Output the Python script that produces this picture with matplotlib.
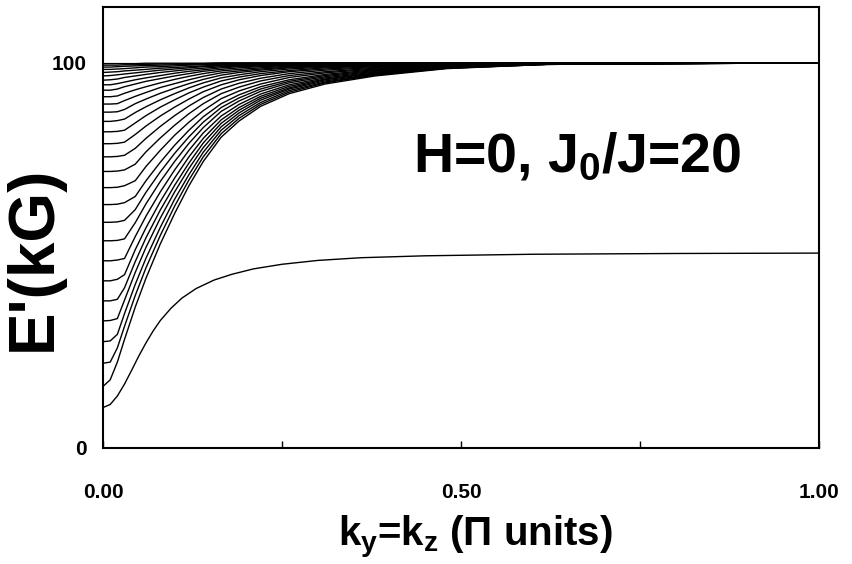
import matplotlib
matplotlib.use("Agg")
import matplotlib.pyplot as plt

plt.rcParams['font.family'] = ['Liberation Sans', 'DejaVu Sans']
plt.rcParams['mathtext.fontset'] = 'custom'
plt.rcParams['mathtext.rm'] = 'Liberation Sans:bold'
plt.rcParams['mathtext.it'] = 'Liberation Sans:bold'
plt.rcParams['mathtext.bf'] = 'Liberation Sans:bold'

# wave vector grid (pi units) for the bulk-like branches
k = [0, 0.01, 0.02, 0.03, 0.045, 0.06, 0.08, 0.10, 0.12, 0.14,
     0.165, 0.19, 0.22, 0.26, 0.31, 0.38, 0.48, 0.62, 1.0]

# E'(k) of each branch, lowest first (kG)
modes = [
    [16.0, 17.7, 22.3, 28.2, 36.6, 44.1, 53.0, 60.9, 68.1, 74.4, 80.7, 84.9, 88.7, 92.0, 94.5, 96.6, 98.5, 99.6, 100],
    [22.0, 22.3, 26.0, 31.6, 39.6, 46.8, 55.2, 62.8, 69.6, 75.6, 81.6, 85.6, 89.2, 92.4, 94.8, 96.8, 98.6, 99.6, 100],
    [27.6, 27.8, 29.5, 34.9, 42.5, 49.3, 57.3, 64.6, 71.0, 76.8, 82.5, 86.3, 89.7, 92.8, 95.0, 97.0, 98.6, 99.6, 100],
    [33.0, 33.1, 33.6, 38.4, 45.6, 52.1, 59.7, 66.5, 72.6, 78.0, 83.4, 87.0, 90.3, 93.2, 95.3, 97.1, 98.7, 99.6, 100],
    [38.2, 38.2, 38.6, 41.6, 48.4, 54.6, 61.8, 68.2, 74.0, 79.2, 84.3, 87.7, 90.8, 93.5, 95.6, 97.3, 98.8, 99.7, 100],
    [43.4, 43.4, 43.8, 45.0, 51.5, 57.2, 64.0, 70.1, 75.6, 80.4, 85.2, 88.4, 91.3, 93.9, 95.8, 97.4, 98.8, 99.7, 100],
    [48.6, 48.6, 48.8, 49.2, 54.9, 60.2, 66.5, 72.2, 77.3, 81.8, 86.2, 89.2, 91.9, 94.3, 96.1, 97.6, 98.9, 99.7, 100],
    [53.8, 53.8, 53.9, 54.3, 58.5, 63.4, 69.2, 74.4, 79.1, 83.2, 87.4, 90.1, 92.6, 94.8, 96.4, 97.8, 99.0, 99.7, 100],
    [58.6, 58.6, 58.7, 59.1, 61.9, 66.4, 71.7, 76.5, 80.8, 84.6, 88.4, 90.9, 93.2, 95.2, 96.7, 98.0, 99.1, 99.7, 100],
    [63.2, 63.2, 63.3, 63.7, 65.3, 69.4, 74.2, 78.6, 82.5, 86.0, 89.4, 91.7, 93.8, 95.6, 97.0, 98.2, 99.2, 99.8, 100],
    [67.6, 67.6, 67.7, 68.1, 69.4, 73.1, 77.3, 81.2, 84.6, 87.6, 90.7, 92.7, 94.5, 96.2, 97.4, 98.4, 99.3, 99.8, 100],
    [71.8, 71.8, 71.9, 72.2, 73.7, 76.9, 80.5, 83.8, 86.8, 89.4, 92.0, 93.7, 95.3, 96.7, 97.7, 98.6, 99.4, 99.8, 100],
    [75.6, 75.6, 75.7, 76.0, 77.8, 80.4, 83.5, 86.3, 88.8, 91.0, 93.2, 94.7, 96.0, 97.2, 98.1, 98.8, 99.5, 99.9, 100],
    [79.0, 79.0, 79.1, 79.4, 81.4, 83.6, 86.2, 88.5, 90.6, 92.5, 94.3, 95.6, 96.7, 97.7, 98.4, 99.0, 99.6, 99.9, 100],
    [82.1, 82.1, 82.2, 82.5, 84.4, 86.3, 88.5, 90.4, 92.2, 93.7, 95.3, 96.3, 97.2, 98.0, 98.7, 99.2, 99.6, 99.9, 100],
    [84.8, 84.8, 85.0, 85.4, 87.1, 88.6, 90.4, 92.0, 93.5, 94.8, 96.1, 96.9, 97.7, 98.4, 98.9, 99.3, 99.7, 99.9, 100],
    [87.2, 87.2, 87.3, 87.9, 89.4, 90.6, 92.1, 93.4, 94.6, 95.7, 96.8, 97.5, 98.1, 98.7, 99.1, 99.4, 99.7, 99.9, 100],
    [89.3, 89.3, 89.4, 90.2, 91.3, 92.3, 93.6, 94.6, 95.6, 96.5, 97.4, 97.9, 98.4, 98.9, 99.2, 99.5, 99.8, 99.9, 100],
    [91.2, 91.2, 91.4, 92.1, 93.0, 93.8, 94.8, 95.7, 96.5, 97.2, 97.9, 98.3, 98.7, 99.1, 99.4, 99.6, 99.8, 100, 100],
    [92.9, 92.9, 93.2, 93.8, 94.5, 95.2, 95.9, 96.6, 97.2, 97.8, 98.3, 98.7, 99.0, 99.3, 99.5, 99.7, 99.9, 100, 100],
    [94.3, 94.3, 94.6, 95.0, 95.6, 96.1, 96.7, 97.3, 97.8, 98.2, 98.7, 99.0, 99.2, 99.4, 99.6, 99.8, 99.9, 100, 100],
    [95.5, 95.6, 95.8, 96.2, 96.6, 97.0, 97.5, 97.9, 98.3, 98.6, 99.0, 99.2, 99.4, 99.6, 99.7, 99.8, 99.9, 100, 100],
    [96.6, 96.7, 96.9, 97.1, 97.4, 97.7, 98.1, 98.4, 98.7, 99.0, 99.2, 99.4, 99.5, 99.7, 99.8, 99.9, 99.9, 100, 100],
    [97.5, 97.6, 97.7, 97.9, 98.1, 98.3, 98.6, 98.8, 99.0, 99.2, 99.4, 99.5, 99.7, 99.8, 99.8, 99.9, 100, 100, 100],
    [98.3, 98.3, 98.4, 98.5, 98.7, 98.9, 99.0, 99.2, 99.4, 99.5, 99.6, 99.7, 99.8, 99.8, 99.9, 99.9, 100, 100, 100],
    [98.9, 98.9, 99.0, 99.1, 99.2, 99.3, 99.4, 99.5, 99.6, 99.7, 99.7, 99.8, 99.9, 99.9, 99.9, 100, 100, 100, 100],
    [99.4, 99.4, 99.4, 99.5, 99.5, 99.6, 99.7, 99.7, 99.8, 99.8, 99.9, 99.9, 99.9, 99.9, 100, 100, 100, 100, 100],
    [99.8, 99.8, 99.8, 99.8, 99.8, 99.9, 99.9, 99.9, 99.9, 99.9, 100, 100, 100, 100, 100, 100, 100, 100, 100],
]

# separate low-lying branch
k_low = [0, 0.01, 0.02, 0.03, 0.04, 0.05, 0.06, 0.07, 0.08, 0.095, 0.11,
         0.13, 0.155, 0.18, 0.21, 0.25, 0.30, 0.36, 0.45, 0.6, 0.8, 1.0]
e_low = [10.5, 11.3, 13.5, 16.6, 20.2, 23.9, 27.3, 30.4, 33.1, 36.3, 38.9,
         41.4, 43.6, 45.1, 46.5, 47.7, 48.7, 49.4, 49.9, 50.3, 50.5, 50.6]

fig = plt.figure(figsize=(8.53, 5.64), dpi=100)
ax = fig.add_axes([0.1208, 0.2057, 0.8394, 0.7819])

for row in modes:
    ax.plot(k, row, color='black', lw=1.0)
ax.plot(k_low, e_low, color='black', lw=1.0)

ax.set_xlim(0, 1)
ax.set_ylim(0, 114.5)
ax.set_xticks([0, 0.5, 1.0])
ax.set_xticklabels(['0.00', '0.50', '1.00'])
ax.set_xticks([0.25, 0.75], minor=True)
ax.set_yticks([0, 100])
ax.tick_params(axis='x', which='both', direction='in', length=5, width=1,
               pad=25, labelsize=15)
ax.tick_params(axis='y', direction='in', length=0, pad=12, labelsize=15)
for lab in ax.get_xticklabels() + ax.get_yticklabels():
    lab.set_fontweight('bold')
for s in ax.spines.values():
    s.set_linewidth(1.5)

ax.set_xlabel(r'$k_y$=$k_z$ (Π units)', fontsize=29, fontweight='bold', va='center')
ax.xaxis.set_label_coords(0.52, -0.204)
ax.set_ylabel("E'(kG)", fontsize=46, fontweight='bold', va='center')
ax.yaxis.set_label_coords(-0.097, 0.43)

ax.text(0.662, 0.658, r'H=0, $J_0$/J=20', transform=ax.transAxes,
        fontsize=40, fontweight='bold', ha='center', va='center')

fig.savefig('out.png', dpi=100)
